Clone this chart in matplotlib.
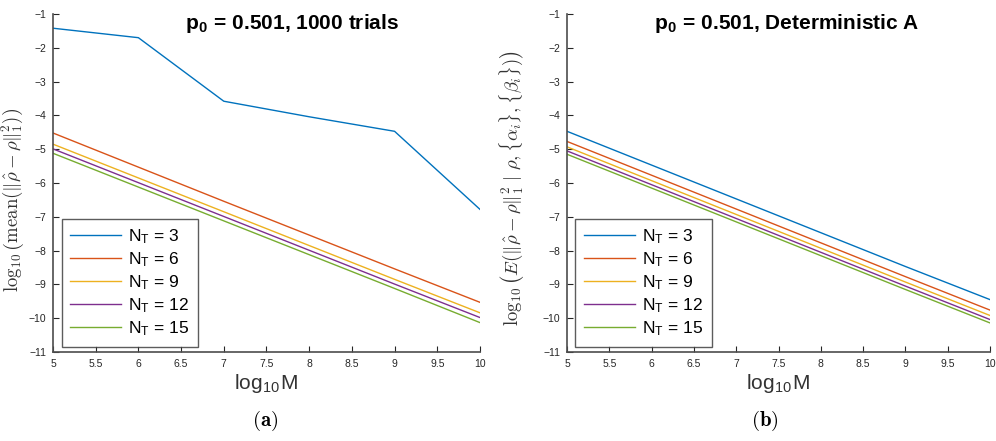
import matplotlib
matplotlib.use("Agg")
import matplotlib.pyplot as plt

plt.rcParams['font.family'] = ['Liberation Sans', 'DejaVu Sans']
plt.rcParams['mathtext.fontset'] = 'cm'

# data
log_m = [5, 6, 7, 8, 9, 10]
nt_values = [3, 6, 9, 12, 15]

# (a) mean over 1000 trials
trials = {
    3: [-1.42, -1.70, -3.58, -4.04, -4.47, -6.78],
    6: [-4.52, -5.53, -6.54, -7.54, -8.54, -9.53],
    9: [-4.85, -5.85, -6.85, -7.85, -8.85, -9.84],
    12: [-4.99, -5.99, -6.99, -7.99, -8.99, -9.98],
    15: [-5.12, -6.12, -7.12, -8.12, -9.12, -10.13],
}

# (b) deterministic A
determ = {
    3: [-4.47, -5.47, -6.47, -7.47, -8.47, -9.45],
    6: [-4.77, -5.77, -6.77, -7.77, -8.77, -9.76],
    9: [-4.93, -5.93, -6.93, -7.93, -8.93, -9.92],
    12: [-5.05, -6.05, -7.05, -8.05, -9.05, -10.04],
    15: [-5.15, -6.15, -7.15, -8.15, -9.15, -10.14],
}

colors = ['#0072BD', '#D95319', '#EDB120', '#7E2F8E', '#77AC30']
xticks = [5, 5.5, 6, 6.5, 7, 7.5, 8, 8.5, 9, 9.5, 10]
yticks = list(range(-11, 0))

fig = plt.figure(figsize=(9.96, 4.41), dpi=100)
ax1 = fig.add_axes([0.0532, 0.2018, 0.4287, 0.7664])
ax2 = fig.add_axes([0.5693, 0.2018, 0.4247, 0.7664])


def style(ax, data):
    for nt, c in zip(nt_values, colors):
        ax.plot(log_m, data[nt], color=c, lw=1.0,
                label=r'$\mathregular{N_T}$ = %d' % nt)
    ax.set_xlim(5, 10)
    ax.set_ylim(-11, -1)
    ax.set_xticks(xticks)
    ax.set_xticklabels(['%g' % t for t in xticks])
    ax.set_yticks(yticks)
    ax.tick_params(direction='in', length=4, width=0.8, labelsize=7.5,
                   colors='#262626', pad=5)
    for s in ['top', 'right']:
        ax.spines[s].set_visible(False)
    for s in ['left', 'bottom']:
        ax.spines[s].set_color('#4d4d4d')
        ax.spines[s].set_linewidth(1.2)
    ax.set_xlabel(r'log$_\mathregular{10}$M', fontsize=15, color='#333333',
                  labelpad=2)
    leg = ax.legend(loc='lower left', bbox_to_anchor=(0.02, 0.015),
                    fontsize=12.5, handlelength=2.9, handletextpad=0.45,
                    labelspacing=0.25, borderpad=0.5, fancybox=False,
                    borderaxespad=0)
    leg.get_frame().set_edgecolor('#333333')
    leg.get_frame().set_linewidth(1.0)


style(ax1, trials)
style(ax2, determ)

ax1.set_title(r'p$_\mathregular{0}$ = 0.501, 1000 trials', fontsize=15,
              fontweight='bold', x=0.56, y=0.93)
ax2.set_title(r'p$_\mathregular{0}$ = 0.501, Deterministic A', fontsize=15,
              fontweight='bold', x=0.52, y=0.93)

ax1.set_ylabel(r'$\log_{10}\left(\mathrm{mean}(\|\hat{\rho}-\rho\|_1^2)\right)$',
               fontsize=13.5, color='#333333')
ax1.yaxis.set_label_coords(-0.062, 0.45)
ax2.set_ylabel(r'$\log_{10}\left(E(\|\hat{\rho}-\rho\|_1^2\ |\ \rho,\{\alpha_i\},\{\beta_i\})\right)$',
               fontsize=13.5, color='#333333')
ax2.yaxis.set_label_coords(-0.095, 0.485)

fig.text(0.266, 0.035, r'$\mathbf{(a)}$', fontsize=15, ha='center')
fig.text(0.768, 0.035, r'$\mathbf{(b)}$', fontsize=15, ha='center')

fig.savefig('out.png', dpi=100)
